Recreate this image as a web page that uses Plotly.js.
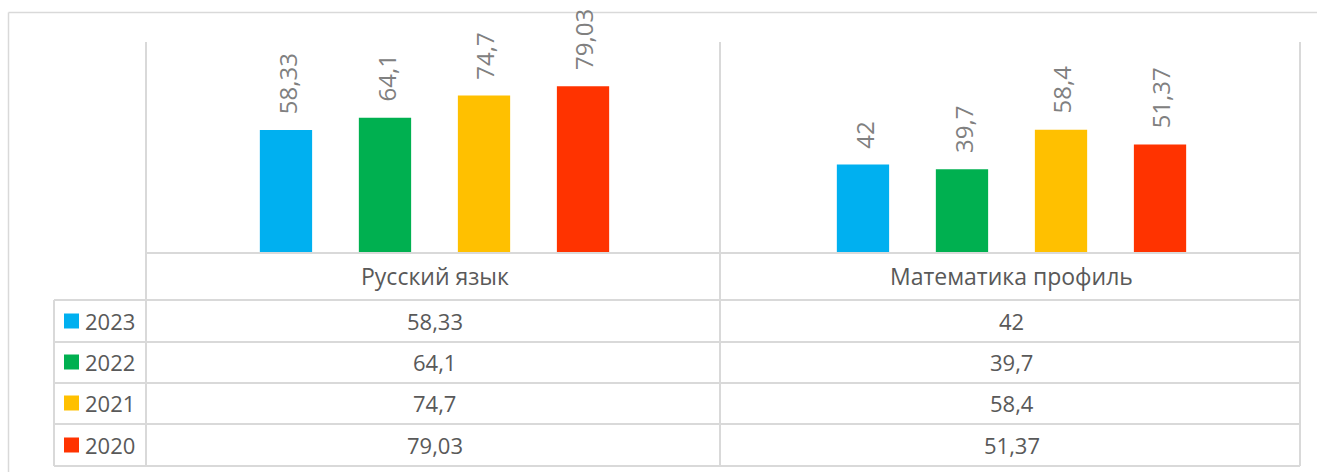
<!DOCTYPE html>
<html>
<head>
<meta charset="utf-8">
<script src="https://cdn.plot.ly/plotly-3.0.1.min.js"></script>
<style>html,body{margin:0;padding:0;background:#fff;}#chart{width:1317px;height:472px;}</style>
</head>
<body>
<div id="chart"></div>
<script>
const categories = ['Русский язык', 'Математика профиль'];
const years = ['2023', '2022', '2021', '2020'];
const values2023 = [58.33, 42];
const values2022 = [64.1, 39.7];
const values2021 = [74.7, 58.4];
const values2020 = [79.03, 51.37];
const seriesValues = [values2023, values2022, values2021, values2020];
const colors = ['#00B0F0', '#00B050', '#FFC000', '#FF3300'];

const W = 1317, H = 472;
const L = 146, R = 1300, T = 42, B = 253;
const px = x => (x - L) / (R - L);
const py = y => (B - y) / (B - T);
const fmt = v => String(v).replace('.', ',');
const lineColor = '#d9d9d9';
const font = "'Open Sans', 'Noto Sans', sans-serif";

const traces = seriesValues.map((vals, i) => ({
  type: 'bar', x: categories, y: vals, name: years[i],
  marker: {color: colors[i]}, hoverinfo: 'skip', showlegend: false
}));

const annotations = [];
const slot = 98.5;
seriesValues.forEach((vals, i) => {
  vals.forEach((v, j) => {
    annotations.push({
      xref: 'x', yref: 'y', x: categories[j], y: v,
      xshift: (i - 1.5) * slot + 1, yshift: 14,
      xanchor: 'center', yanchor: 'bottom', textangle: -90,
      text: fmt(v), showarrow: false,
      font: {family: font, size: 24, color: '#808080'}
    });
  });
});
// category row
categories.forEach(c => {
  annotations.push({xref: 'x', yref: 'paper', x: c, y: py(276), yanchor: 'middle',
    text: c, showarrow: false, font: {family: font, size: 23, color: '#595959'}});
});
const rowCenters = [321, 362, 403, 445];
const rowLines = [300, 342, 383, 424, 466];
years.forEach((yr, i) => {
  annotations.push({xref: 'paper', yref: 'paper', x: px(83), y: py(rowCenters[i]),
    xanchor: 'left', yanchor: 'middle', text: yr, showarrow: false,
    font: {family: font, size: 22, color: '#595959'}});
  categories.forEach((c, j) => {
    annotations.push({xref: 'x', yref: 'paper', x: c, y: py(rowCenters[i]),
      xanchor: 'center', yanchor: 'middle', text: fmt(seriesValues[i][j]), showarrow: false,
      font: {family: font, size: 22, color: '#595959'}});
  });
});

const shapes = [];
const hline = (y, x0, x1, w) => shapes.push({type: 'line', xref: 'paper', yref: 'paper',
  x0: px(x0), x1: px(x1), y0: py(y), y1: py(y), line: {color: lineColor, width: w || 2}});
const vline = (x, y0, y1, w) => shapes.push({type: 'line', xref: 'paper', yref: 'paper',
  x0: px(x), x1: px(x), y0: py(y0), y1: py(y1), line: {color: lineColor, width: w || 2}});
// outer chart border
hline(12.5, 8.5, 1330, 1.5);
vline(8.5, 12.5, 480, 1.5);
// plot/table grid
vline(146, 42, 466);
vline(720, 42, 466);
vline(1300, 42, 466);
hline(253, 146, 1300);
rowLines.forEach(y => hline(y, 54, 1300));
vline(54, 300, 466);
// legend keys
years.forEach((yr, i) => {
  shapes.push({type: 'rect', xref: 'paper', yref: 'paper',
    x0: px(64), x1: px(79), y0: py(rowCenters[i] - 7.5), y1: py(rowCenters[i] + 7.5),
    fillcolor: colors[i], line: {width: 0}});
});

const layout = {
  width: W, height: H,
  margin: {l: L, r: W - R, t: T, b: H - B, pad: 0},
  paper_bgcolor: '#fff', plot_bgcolor: '#fff',
  barmode: 'group', bargap: 0.3136, bargroupgap: 0.472,
  xaxis: {type: 'category', showticklabels: false, showgrid: false, zeroline: false, showline: false, ticks: '', fixedrange: true},
  yaxis: {range: [0, 100], showticklabels: false, showgrid: false, zeroline: false, showline: false, ticks: '', fixedrange: true},
  showlegend: false,
  annotations: annotations,
  shapes: shapes,
  font: {family: font}
};
Plotly.newPlot('chart', traces, layout, {displayModeBar: false, staticPlot: true});
</script>
</body>
</html>
